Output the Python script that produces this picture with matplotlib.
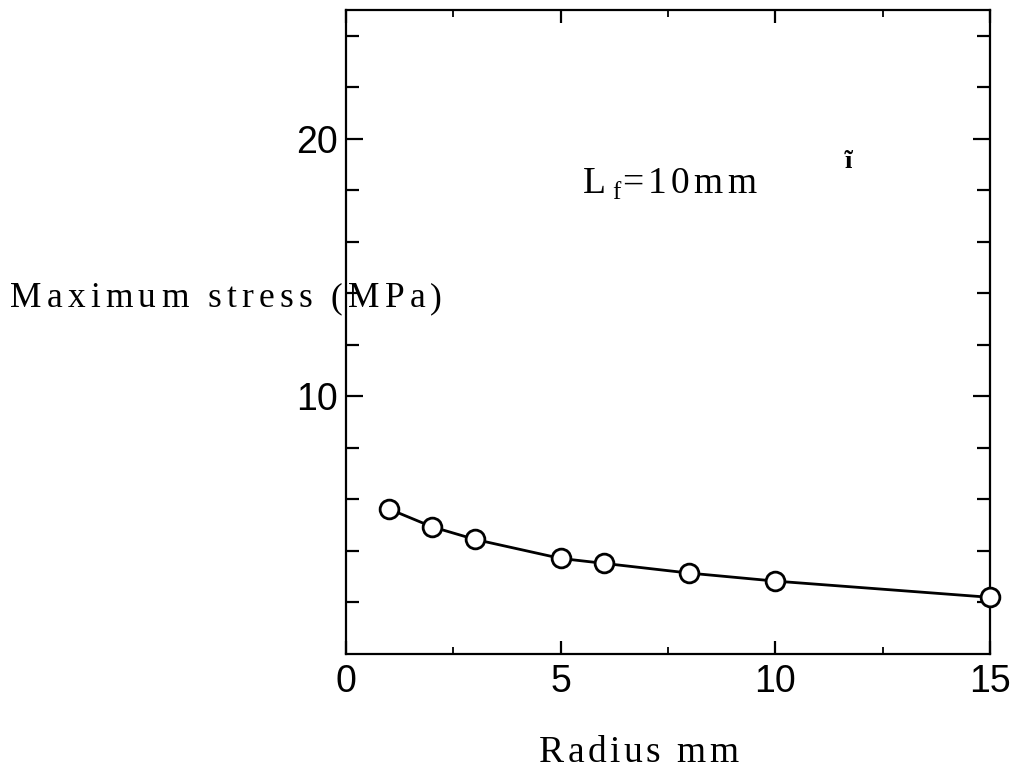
import matplotlib
matplotlib.use("Agg")
import matplotlib.pyplot as plt
from matplotlib.font_manager import FontProperties, findfont, get_font
from matplotlib.transforms import IdentityTransform
from matplotlib.ticker import FixedLocator

# ---- data ----
radius = [1, 2, 3, 5, 6, 8, 10, 15]
stress = [5.63, 4.94, 4.45, 3.71, 3.52, 3.14, 2.83, 2.20]

x_major = [0, 5, 10, 15]
x_major_labels = ["0", "5", "10", "15"]
x_minor = [2.5, 7.5, 12.5]
y_major = [10, 20]
y_major_labels = ["10", "20"]
y_minor = [2, 4, 6, 8, 12, 14, 16, 18, 22, 24]

xlabel = "Radius mm"
ylabel = "Maximum stress (MPa)"
note_main = "L"
note_sub = "f"
note_rest = "=10mm"

# ---- figure ----
W, H, DPI = 1014, 771, 100
fig = plt.figure(figsize=(W / DPI, H / DPI), dpi=DPI)
ax = fig.add_axes([346 / W, 1 - 654 / H, (990 - 346) / W, (654 - 10) / H])

ax.plot(radius, stress, color="black", lw=2.0, marker="o", ms=13.5,
        mfc="white", mec="black", mew=2.0, clip_on=False, zorder=3)

ax.set_xlim(0, 15)
ax.set_ylim(0, 25)
for sp in ax.spines.values():
    sp.set_linewidth(1.6)

ax.xaxis.set_major_locator(FixedLocator(x_major))
ax.xaxis.set_minor_locator(FixedLocator(x_minor))
ax.set_xticklabels(x_major_labels)
ax.yaxis.set_major_locator(FixedLocator(y_major))
ax.yaxis.set_minor_locator(FixedLocator(y_minor))
ax.set_yticklabels(y_major_labels)

tick_font = "Liberation Sans"
ax.tick_params(axis="x", which="major", direction="in", length=9.5, width=1.6,
               top=True, pad=7, labelsize=27)
ax.tick_params(axis="x", which="minor", direction="in", length=5, width=1.3, top=True)
ax.tick_params(axis="y", which="major", direction="in", length=12, width=1.6,
               right=True, pad=6, labelsize=27)
ax.tick_params(axis="y", which="minor", direction="in", length=9.5, width=1.6, right=True)
for lab in ax.get_xticklabels() + ax.get_yticklabels():
    lab.set_fontfamily(tick_font)


def advances(s, prop):
    font = get_font(findfont(prop))
    font.set_size(prop.get_size_in_points(), DPI)
    return [font.load_char(ord(c)).linearHoriAdvance / 65536 for c in s]


def tracked(s, x_left, x_right, y_base_top, size, family="Liberation Serif"):
    """Draw s letter-spaced between pixel x_left and x_right (image coords)."""
    prop = FontProperties(family=family, size=size)
    adv = advances(s, prop)
    n = len(s)
    track = (x_right - x_left - sum(adv)) / max(n - 1, 1)
    x = x_left
    y = H - y_base_top
    for c, a in zip(s, adv):
        fig.text(x, y, c, fontproperties=prop, transform=IdentityTransform(),
                 ha="left", va="baseline")
        x += a + track
    return x


tracked(ylabel, 10, 442, 307, 25.5)
tracked(xlabel, 539, 738, 762, 27)

# L_f = 10mm
prop_L = FontProperties(family="Liberation Serif", size=27)
fig.text(583, H - 193, note_main, fontproperties=prop_L,
         transform=IdentityTransform(), ha="left", va="baseline")
prop_f = FontProperties(family="Liberation Serif", size=18)
fig.text(612, H - 199, note_sub, fontproperties=prop_f,
         transform=IdentityTransform(), ha="left", va="baseline")
tracked(note_rest, 622, 756, 193, 27)

# small stray glyph mark near top right
fig.text(848, H - 161, "ĩ", fontproperties=FontProperties(family="Liberation Serif",
         size=19, weight="bold"), transform=IdentityTransform(), ha="center",
         va="center")

fig.savefig("out.png", dpi=DPI)
